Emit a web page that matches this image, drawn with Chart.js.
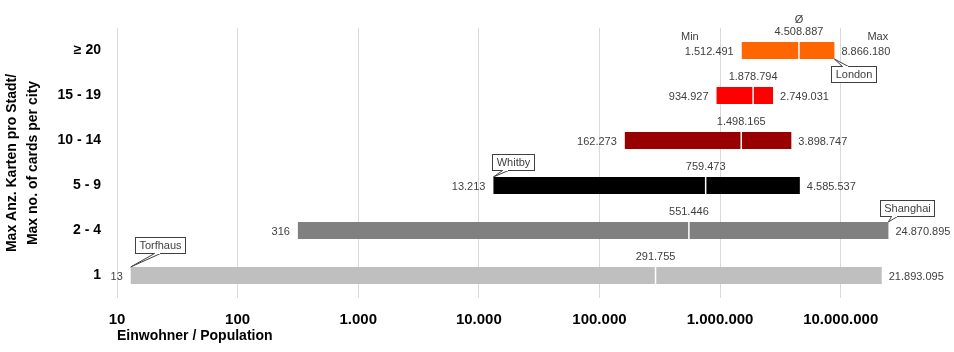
<!DOCTYPE html>
<html>
<head>
<meta charset="utf-8">
<script src="https://cdn.jsdelivr.net/npm/chart.js@4"></script>
<style>
    html, body { margin: 0; padding: 0; background: #fff; }
    #wrap { width: 954px; height: 352px; position: relative; }
</style>
</head>
<body>
<div id="wrap"><canvas id="population-chart"></canvas></div>
<script>
var groups = ['≥ 20', '15 - 19', '10 - 14', '5 - 9', '2 - 4', '1'];
var minPop = [1512491, 934927, 162273, 13213, 316, 13];
var avgPop = [4508887, 1878794, 1498165, 759473, 551446, 291755];
var maxPop = [8866180, 2749031, 3898747, 4585537, 24870895, 21893095];
var minCity = ['', '', '', 'Whitby', '', 'Torfhaus'];
var maxCity = ['London', '', '', '', 'Shanghai', ''];
var xTicks = [10, 100, 1000, 10000, 100000, 1000000, 10000000];
var barColors = ['#FF6600', '#FF0000', '#990000', '#000000', '#808080', '#BFBFBF'];

var FONT = '"Liberation Sans", Arial, sans-serif';

function fmt(v) {
    return String(Math.round(v)).replace(/\B(?=(\d{3})+(?!\d))/g, '.');
}

// where each callout box sits relative to the bar corner it points at
var calloutLayout = {
    London:   { below: true,  dx: -3, dy: 7,  tip: 14 },
    Shanghai: { below: false, dx: -8, dy: 6,  tip: 14 },
    Whitby:   { below: false, dx: -1, dy: 7,  tip: 13 },
    Torfhaus: { below: false, dx: 4,  dy: 14, tip: 22 }
};

function drawCallout(ctx, text, ax, top, bottom) {
    var c = calloutLayout[text];
    var ay = c.below ? bottom : top;
    ctx.font = '11px ' + FONT;
    var w = Math.round(ctx.measureText(text).width) + 8;
    var h = 16;
    var bx = Math.round(ax + c.dx) + 0.5;
    var by = c.below ? Math.round(ay + c.dy) + 0.5 : Math.round(ay - c.dy - h) + 0.5;
    var edge = c.below ? by : by + h;
    var t1 = bx + c.tip - 3, t2 = bx + c.tip + 3;

    ctx.fillStyle = '#fff';
    ctx.strokeStyle = '#404040';
    ctx.lineWidth = 1;
    ctx.fillRect(bx, by, w, h);
    ctx.strokeRect(bx, by, w, h);
    ctx.beginPath();
    ctx.moveTo(t1, edge);
    ctx.lineTo(ax, ay);
    ctx.lineTo(t2, edge);
    ctx.closePath();
    ctx.fill();
    ctx.beginPath();
    ctx.moveTo(t1, edge);
    ctx.lineTo(ax, ay);
    ctx.lineTo(t2, edge);
    ctx.stroke();
    ctx.fillStyle = '#fff';
    ctx.fillRect(t1 + 0.5, edge - 0.5, t2 - t1 - 1, 1);

    ctx.fillStyle = '#404040';
    ctx.textAlign = 'center';
    ctx.textBaseline = 'middle';
    ctx.fillText(text, bx + w / 2, by + h / 2 + 0.5);
}

var rangeLabels = {
    id: 'rangeLabels',
    afterDatasetsDraw: function (chart) {
        var ctx = chart.ctx;
        var xs = chart.scales.x;
        var meta = chart.getDatasetMeta(0);
        ctx.save();
        for (var i = 0; i < groups.length; i++) {
            var bar = meta.data[i];
            var yc = bar.y;
            var top = yc - bar.height / 2;
            var bottom = yc + bar.height / 2;
            var x0 = xs.getPixelForValue(minPop[i]);
            var x1 = xs.getPixelForValue(maxPop[i]);
            var xa = xs.getPixelForValue(avgPop[i]);

            // average marker
            ctx.strokeStyle = '#fff';
            ctx.lineWidth = 1.5;
            ctx.beginPath();
            ctx.moveTo(xa, top);
            ctx.lineTo(xa, bottom);
            ctx.stroke();

            ctx.font = '11px ' + FONT;
            ctx.fillStyle = '#404040';
            ctx.textBaseline = 'middle';
            ctx.textAlign = 'right';
            ctx.fillText(fmt(minPop[i]), x0 - 8, yc + 1);
            ctx.textAlign = 'left';
            ctx.fillText(fmt(maxPop[i]), x1 + 7, yc + 1);
            ctx.textAlign = 'center';
            ctx.fillText(fmt(avgPop[i]), xa, yc - 19);

            if (i === 0) {
                ctx.textAlign = 'right';
                ctx.fillText('Min', x0 - 43, yc - 14);
                ctx.textAlign = 'left';
                ctx.fillText('Max', x1 + 33, yc - 14);
                ctx.textAlign = 'center';
                ctx.fillText('Ø', xa, yc - 31);
            }
        }
        for (var j = 0; j < groups.length; j++) {
            var b = meta.data[j];
            var t = b.y - b.height / 2, bt = b.y + b.height / 2;
            if (minCity[j]) drawCallout(ctx, minCity[j], xs.getPixelForValue(minPop[j]), t, bt);
            if (maxCity[j]) drawCallout(ctx, maxCity[j], xs.getPixelForValue(maxPop[j]), t, bt);
        }
        ctx.restore();
    }
};

var ranges = [];
for (var i = 0; i < groups.length; i++) {
    ranges.push([minPop[i], maxPop[i]]);
}

var ctx = document.getElementById('population-chart');
var rangeChart = new Chart(ctx, {
    type: 'bar',
    data: {
        labels: groups,
        datasets: [{
            data: ranges,
            backgroundColor: barColors,
            borderWidth: 0,
            barPercentage: 0.38,
            categoryPercentage: 1
        }]
    },
    options: {
        indexAxis: 'y',
        responsive: true,
        maintainAspectRatio: false,
        animation: false,
        layout: { padding: { top: 28, right: 0, bottom: 0, left: 0 } },
        plugins: {
            legend: { display: false },
            tooltip: { enabled: false }
        },
        scales: {
            x: {
                type: 'logarithmic',
                min: 10,
                max: 87000000,
                afterBuildTicks: function (scale) {
                    scale.ticks = xTicks.map(function (v) { return { value: v }; });
                },
                afterFit: function (scale) { scale.height = 54; },
                grid: { color: '#D9D9D9', drawTicks: false },
                border: { display: false },
                ticks: {
                    padding: 13,
                    color: '#000',
                    autoSkip: false,
                    maxRotation: 0,
                    font: { family: FONT, size: 15, weight: 'bold' },
                    callback: function (v) { return fmt(v); }
                },
                title: {
                    display: true,
                    text: 'Einwohner / Population',
                    align: 'start',
                    color: '#000',
                    font: { family: FONT, size: 14, weight: 'bold' },
                    padding: { top: 0, bottom: 7 }
                }
            },
            y: {
                afterFit: function (scale) { scale.width = 117; },
                grid: { display: false },
                border: { display: false },
                ticks: {
                    padding: 8,
                    color: '#000',
                    font: { family: FONT, size: 14, weight: 'bold' }
                },
                title: {
                    display: true,
                    text: ['Max Anz. Karten pro Stadt/', 'Max no. of cards per city'],
                    color: '#000',
                    font: { family: FONT, size: 14, weight: 'bold', lineHeight: 1.5 },
                    padding: { top: 2, bottom: 0 }
                }
            }
        }
    },
    plugins: [rangeLabels]
});
</script>
</body>
</html>
